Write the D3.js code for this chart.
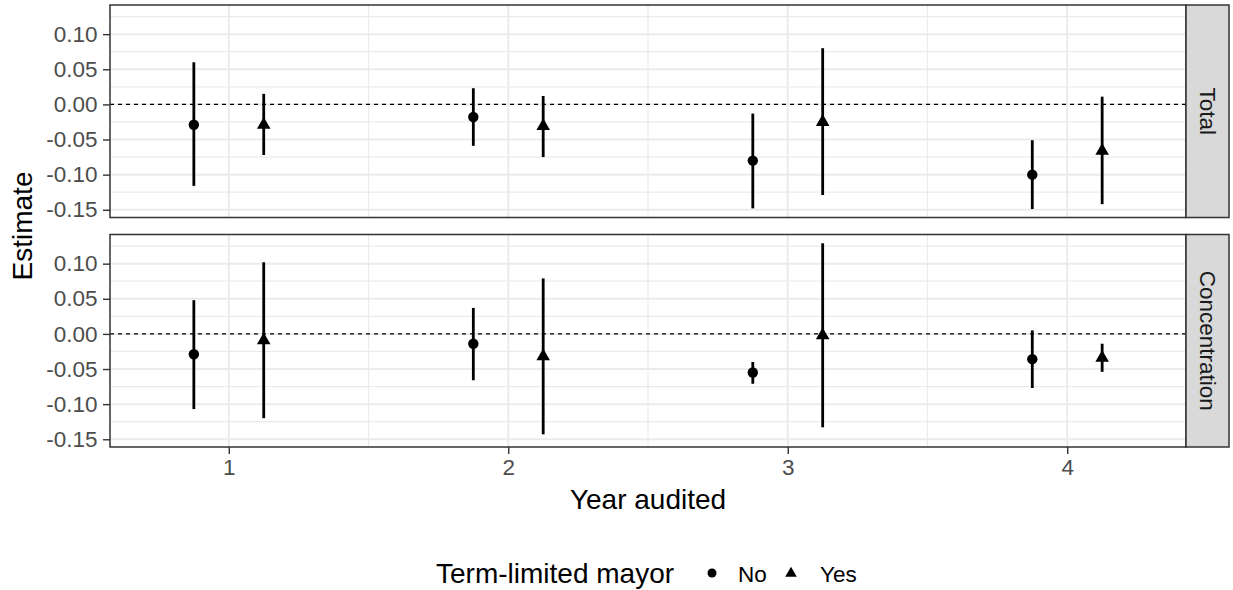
<!doctype html>
<html>
<head>
<meta charset="utf-8">
<script src="https://d3js.org/d3.v7.min.js"></script>
<style>
  body { margin: 0; background: #fff; }
  svg { display: block; font-family: "Liberation Sans", Arial, sans-serif; }
</style>
</head>
<body>
<svg width="1233" height="590"></svg>
<script>
// ---- data ----
var years = [1, 2, 3, 4];
var groups = ["No", "Yes"];
var facets = ["Total", "Concentration"];
var yTicks = [-0.15, -0.10, -0.05, 0.00, 0.05, 0.10];
var xTicks = [1, 2, 3, 4];

var totalNoEst  = [-0.029, -0.018, -0.080, -0.100];
var totalNoLo   = [-0.116, -0.059, -0.148, -0.149];
var totalNoHi   = [ 0.060,  0.023, -0.013, -0.051];
var totalYesEst = [-0.029, -0.031, -0.025, -0.066];
var totalYesLo  = [-0.072, -0.075, -0.129, -0.142];
var totalYesHi  = [ 0.015,  0.012,  0.080,  0.011];

var concNoEst  = [-0.029, -0.014, -0.055, -0.036];
var concNoLo   = [-0.107, -0.066, -0.071, -0.077];
var concNoHi   = [ 0.048,  0.037, -0.040,  0.005];
var concYesEst = [-0.009, -0.032, -0.002, -0.034];
var concYesLo  = [-0.120, -0.143, -0.133, -0.054];
var concYesHi  = [ 0.102,  0.079,  0.129, -0.014];

function rows(est, lo, hi, group) {
  return years.map(function(yr, i) {
    return {year: yr, group: group, est: est[i], lo: lo[i], hi: hi[i]};
  });
}
var panelData = {
  "Total": rows(totalNoEst, totalNoLo, totalNoHi, "No")
            .concat(rows(totalYesEst, totalYesLo, totalYesHi, "Yes")),
  "Concentration": rows(concNoEst, concNoLo, concNoHi, "No")
            .concat(rows(concYesEst, concYesLo, concYesHi, "Yes"))
};

// ---- layout ----
var svg = d3.select("svg");
var left = 110, right = 1186, stripW = 43;
var panelTop = [5, 234.5], panelH = 212.5;
var dodge = 0.25;

var x = d3.scaleLinear().domain([0.575, 4.425]).range([left, right]);
var y = d3.scaleLinear().domain([-0.161, 0.1415]).range([panelH, 0]);

var tri = d3.symbol().type(d3.symbolTriangle).size(80);
var triLegend = d3.symbol().type(d3.symbolTriangle).size(58);

facets.forEach(function(f, k) {
  var g = svg.append("g").attr("transform", "translate(0," + panelTop[k] + ")");

  // minor grid
  var yMinor = d3.range(-0.175, 0.15, 0.05).filter(function(v) { return y(v) > 0 && y(v) < panelH; });
  g.selectAll(".ymin").data(yMinor).enter().append("line")
    .attr("x1", left).attr("x2", right)
    .attr("y1", function(d) { return y(d); }).attr("y2", function(d) { return y(d); })
    .attr("stroke", "#ebebeb").attr("stroke-width", 1.2);
  g.selectAll(".xmin").data([1.5, 2.5, 3.5]).enter().append("line")
    .attr("x1", function(d) { return x(d); }).attr("x2", function(d) { return x(d); })
    .attr("y1", 0).attr("y2", panelH)
    .attr("stroke", "#ebebeb").attr("stroke-width", 1.2);
  // major grid
  g.selectAll(".ymaj").data(yTicks).enter().append("line")
    .attr("x1", left).attr("x2", right)
    .attr("y1", function(d) { return y(d); }).attr("y2", function(d) { return y(d); })
    .attr("stroke", "#ebebeb").attr("stroke-width", 2);
  g.selectAll(".xmaj").data(xTicks).enter().append("line")
    .attr("x1", function(d) { return x(d); }).attr("x2", function(d) { return x(d); })
    .attr("y1", 0).attr("y2", panelH)
    .attr("stroke", "#ebebeb").attr("stroke-width", 2);

  // zero line
  g.append("line")
    .attr("x1", left).attr("x2", right).attr("y1", y(0)).attr("y2", y(0))
    .attr("stroke", "#000").attr("stroke-width", 1.1).attr("stroke-dasharray", "4,4");

  // error bars + points
  var d = panelData[f];
  var px = function(r) { return x(r.year + (r.group === "No" ? -dodge / 2 : dodge / 2)); };
  g.selectAll(".bar").data(d).enter().append("line")
    .attr("x1", px).attr("x2", px)
    .attr("y1", function(r) { return y(r.lo); }).attr("y2", function(r) { return y(r.hi); })
    .attr("stroke", "#000").attr("stroke-width", 2.8);
  g.selectAll(".dot").data(d.filter(function(r) { return r.group === "No"; })).enter().append("circle")
    .attr("cx", px).attr("cy", function(r) { return y(r.est); }).attr("r", 5.2).attr("fill", "#000");
  g.selectAll(".tri").data(d.filter(function(r) { return r.group === "Yes"; })).enter().append("path")
    .attr("d", tri)
    .attr("transform", function(r) { return "translate(" + px(r) + "," + y(r.est) + ")"; })
    .attr("fill", "#000");

  // y axis
  var ax = g.append("g").attr("transform", "translate(" + left + ",0)")
    .call(d3.axisLeft(y).tickValues(yTicks).tickFormat(d3.format(".2f")).tickSize(7).tickPadding(5.5));
  ax.select(".domain").remove();
  ax.selectAll(".tick line").attr("stroke", "#333333").attr("stroke-width", 1.4);
  ax.selectAll(".tick text").attr("fill", "#4d4d4d").style("font-size", "22.5px")
    .style("font-family", "Liberation Sans, Arial, sans-serif")
    .text(function(v) { return d3.format(".2f")(v).replace("−", "-"); });

  // panel border
  g.append("rect").attr("x", left).attr("y", 0).attr("width", right - left).attr("height", panelH)
    .attr("fill", "none").attr("stroke", "#333333").attr("stroke-width", 1.5);

  // strip
  g.append("rect").attr("x", right).attr("y", 0).attr("width", stripW).attr("height", panelH)
    .attr("fill", "#d9d9d9").attr("stroke", "#333333").attr("stroke-width", 1.5);
  g.append("text")
    .attr("transform", "translate(" + (right + stripW / 2) + "," + (panelH / 2) + ") rotate(90)")
    .attr("text-anchor", "middle").attr("dy", "0.35em")
    .attr("fill", "#1a1a1a").style("font-size", "22.5px").text(f);
});

// x axis under bottom panel
var xa = svg.append("g").attr("transform", "translate(0," + (panelTop[1] + panelH) + ")")
  .call(d3.axisBottom(x).tickValues(xTicks).tickFormat(d3.format("d")).tickSize(7).tickPadding(5.5));
xa.select(".domain").remove();
xa.selectAll(".tick line").attr("stroke", "#333333").attr("stroke-width", 1.4);
xa.selectAll(".tick text").attr("fill", "#4d4d4d").style("font-size", "22.5px")
  .style("font-family", "Liberation Sans, Arial, sans-serif");

// axis titles
svg.append("text").attr("x", (left + right) / 2).attr("y", 509)
  .attr("text-anchor", "middle").style("font-size", "28px").attr("fill", "#000").text("Year audited");
svg.append("text")
  .attr("transform", "translate(32," + ((panelTop[0] + panelTop[1] + panelH) / 2) + ") rotate(-90)")
  .attr("text-anchor", "middle").style("font-size", "28px").attr("fill", "#000").text("Estimate");

// legend
var leg = svg.append("g");
leg.append("text").attr("x", 436).attr("y", 582.5).style("font-size", "28px").attr("fill", "#000")
  .text("Term-limited mayor");
leg.append("circle").attr("cx", 712).attr("cy", 573).attr("r", 4.5).attr("fill", "#000");
leg.append("text").attr("x", 738).attr("y", 581.5).style("font-size", "22.5px").attr("fill", "#000").text(groups[0]);
leg.append("path").attr("d", triLegend).attr("transform", "translate(791,573.5)").attr("fill", "#000");
leg.append("text").attr("x", 820).attr("y", 581.5).style("font-size", "22.5px").attr("fill", "#000").text(groups[1]);
</script>
</body>
</html>
